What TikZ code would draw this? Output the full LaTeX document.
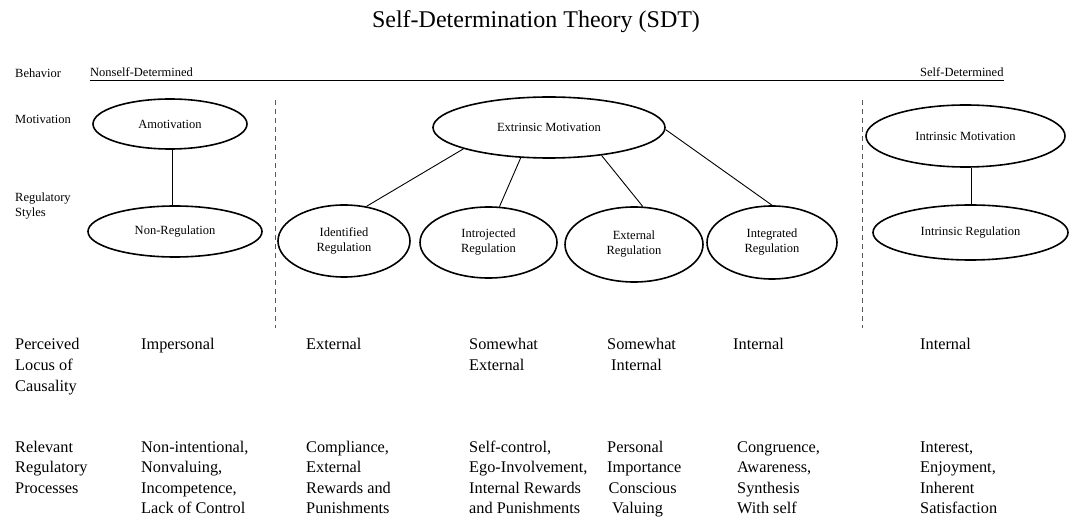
\documentclass[tikz,border=0pt]{standalone}
\usepackage{fontspec}
\setmainfont{Liberation Serif}
\usetikzlibrary{shapes.geometric}
\newcommand\mylines[1]{\begin{tabular}[t]{@{}l@{}}#1\end{tabular}}
\tikzset{
  oval/.style={ellipse, draw, line width=1.6pt, inner sep=0pt, align=center,
    font=\fontsize{12.5}{15}\selectfont},
  link/.style={line width=0.9pt},
  divider/.style={line width=1pt, dash pattern=on 5pt off 4pt, gray!70!black},
  small/.style={anchor=base west, inner sep=0pt, font=\fontsize{12.5}{15}\selectfont},
  bigtxt/.style={anchor=base west, inner sep=0pt, font=\fontsize{16.3}{21}\selectfont},
  bigtxtb/.style={anchor=base west, inner sep=0pt, font=\fontsize{16.3}{20.3}\selectfont},
}
\begin{document}
\begin{tikzpicture}[x=1pt,y=-1pt]
\useasboundingbox (0,0) rectangle (1070,518);
% title
\node[anchor=base, inner sep=0pt, font=\fontsize{24}{28}\selectfont] (title) at (536,28) {Self-Determination Theory (SDT)};
% header row
\node[small] (beh) at (15,78) {Behavior};
\node[small] (nsd) at (90,77) {Nonself-Determined};
\node[small] (sd) at (920,77) {Self-Determined};
\draw[line width=0.9pt] (nsd.base west) ++(0,3) coordinate (ls) -- (1004,80) coordinate (le);
\node[small] (mot) at (15,123.5) {Motivation};
\node[small] (reg) at (15,202) {\mylines{Regulatory\\Styles}};
% dividers
\coordinate (d1t) at (275,100); \coordinate (d1b) at (275,328);
\coordinate (d2t) at (862,100); \coordinate (d2b) at (862,328);
\draw[divider] (d1t) -- (d1b);
\draw[divider] (d2t) -- (d2b);
% ellipses
\node[oval, minimum width=154pt, minimum height=50pt] (amot) at (170,124) {Amotivation};
\node[oval, minimum width=174pt, minimum height=51pt] (nonreg) at (175,231.5) {Non-Regulation};
\node[oval, minimum width=232pt, minimum height=61pt] (extr) at (549,127.5) {Extrinsic Motivation};
\node[oval, minimum width=132pt, minimum height=72pt] (ident) at (344,241) {Identified\\Regulation};
\node[oval, minimum width=137pt, minimum height=71pt] (intro) at (488.5,242.5) {Introjected\\Regulation};
\node[oval, minimum width=138pt, minimum height=75pt] (exreg) at (634,244.5) {External\\Regulation};
\node[oval, minimum width=130pt, minimum height=73pt] (integ) at (772,242.5) {Integrated\\Regulation};
\node[oval, minimum width=199pt, minimum height=62pt] (intrm) at (965.5,136) {Intrinsic Motivation};
\node[oval, minimum width=195pt, minimum height=55pt] (intrr) at (970.5,232.5) {Intrinsic Regulation};
% connectors
\coordinate (ax) at (172,0);
\coordinate (ix) at (971,0);
\draw[link] (amot.south -| ax) -- (nonreg.north -| ax);
\draw[link] (intrm.south -| ix) -- (intrr.north -| ix);
\draw[link] (extr.194) -- (ident.57);
\draw[link] (extr.227) -- (intro.73);
\draw[link] (extr.332) -- (exreg.77);
\draw[link] (extr.359) -- (integ.90);
% locus row
\node[bigtxt] (pl) at (15,349) {\mylines{Perceived\\Locus of\\Causality}};
\node[bigtxt] (p1) at (141,349) {Impersonal};
\node[bigtxt] (p2) at (306,349) {External};
\node[bigtxt] (p3) at (469,349) {\mylines{Somewhat\\External}};
\node[bigtxt] (p4) at (607,349) {\mylines{Somewhat\\\hspace*{4pt}Internal}};
\node[bigtxt] (p5) at (733,349) {Internal};
\node[bigtxt] (p6) at (920,349) {Internal};
% processes row
\node[bigtxtb] (rl) at (15,452.5) {\mylines{Relevant\\Regulatory\\Processes}};
\node[bigtxtb] (r1) at (141,452.5) {\mylines{Non-intentional,\\Nonvaluing,\\Incompetence,\\Lack of Control}};
\node[bigtxtb] (r2) at (306,452.5) {\mylines{Compliance,\\External\\Rewards and\\Punishments}};
\node[bigtxtb] (r3) at (469,452.5) {\mylines{Self-control,\\Ego-Involvement,\\Internal Rewards\\and Punishments}};
\node[bigtxtb] (r4) at (607,452.5) {\mylines{Personal\\Importance\\\hspace*{1.5pt}Conscious\\\hspace*{5pt}Valuing}};
\node[bigtxtb] (r5) at (737,452.5) {\mylines{Congruence,\\Awareness,\\Synthesis\\With self}};
\node[bigtxtb] (r6) at (920,452.5) {\mylines{Interest,\\Enjoyment,\\Inherent\\Satisfaction}};
\end{tikzpicture}
\end{document}
